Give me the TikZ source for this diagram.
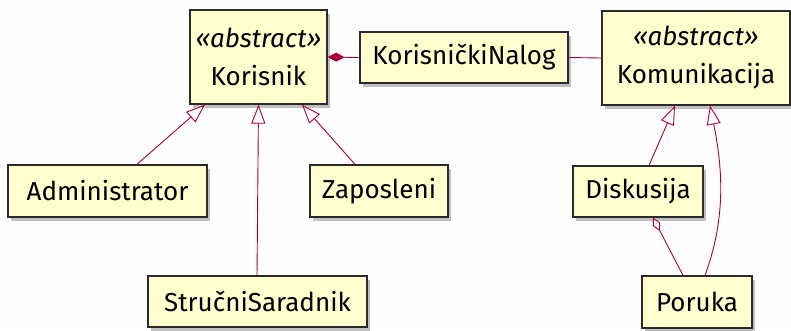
\documentclass[tikz,border=0pt]{standalone}
\usepackage{fontspec}
\setmainfont{Fira Sans}
\usetikzlibrary{arrows.meta,shadows}
\definecolor{umlfill}{HTML}{FEFECE}
\definecolor{umlline}{HTML}{A80036}
\definecolor{umlborder}{HTML}{2A2A2A}
\definecolor{paper}{HTML}{FEFEFE}
\begin{document}
\begin{tikzpicture}[x=1pt,y=-1pt,
  cls/.style={draw=umlborder, line width=1.3pt, fill=umlfill,
    drop shadow={shadow xshift=3pt, shadow yshift=-3.5pt, opacity=0.35, fill=black!70},
    inner sep=0pt, align=center, font=\fontsize{26}{30}\selectfont},
  link/.style={draw=umlline, line width=0.9pt},
  gen/.style={link, -{Triangle[open, length=19pt, width=14pt, fill=white]}},
  comp/.style={link, -{Diamond[length=17pt, width=9pt, fill=umlline]}},
  aggr/.style={link, -{Diamond[open, length=15pt, width=8pt, fill=white]}}]
  % page
  \fill[paper] (0,0) rectangle (791,330);
  \useasboundingbox (0,0) rectangle (791,330);

  % classes
  \node[cls, minimum width=137pt, minimum height=94pt] (kor) at (258.5,57)
    {{\itshape «abstract»}\\[8pt]Korisnik};
  \node[cls, minimum width=208pt, minimum height=51pt] (nalog) at (464,57.5)
    {KorisničkiNalog};
  \node[cls, minimum width=188pt, minimum height=94pt] (kom) at (696,58)
    {{\itshape «abstract»}\\[8pt]Komunikacija};
  \node[cls, minimum width=199pt, minimum height=52pt] (adm) at (107.5,191)
    {Administrator};
  \node[cls, minimum width=138pt, minimum height=52pt] (zap) at (379,191)
    {Zaposleni};
  \node[cls, minimum width=219pt, minimum height=51pt] (ss) at (257.5,301.5)
    {StručniSaradnik};
  \node[cls, minimum width=130pt, minimum height=51pt] (dis) at (638,191.5)
    {Diskusija};
  \node[cls, minimum width=110pt, minimum height=52pt] (por) at (697,302)
    {Poruka};

  % generalisations
  \draw[gen] ([xshift=29.5pt]adm.north) -- ([xshift=-53.5pt]kor.south);
  \draw[gen] ([xshift=-0.5pt]ss.north) -- (kor.south);
  \draw[gen] ([xshift=-24pt]zap.north) -- ([xshift=43.5pt]kor.south);
  \draw[gen] ([xshift=11pt]dis.north) -- ([xshift=-21pt]kom.south);
  \draw[gen] ([xshift=8pt]por.north) .. controls +(22,-60) and +(12,60) .. ([xshift=14pt]kom.south);

  % associations
  \draw[comp] (nalog.west) -- (kor.east);
  \draw[link] (nalog.east) -- (kom.west);
  \draw[aggr] ([xshift=-14pt]por.north) -- ([xshift=15pt]dis.south);
\end{tikzpicture}
\end{document}
